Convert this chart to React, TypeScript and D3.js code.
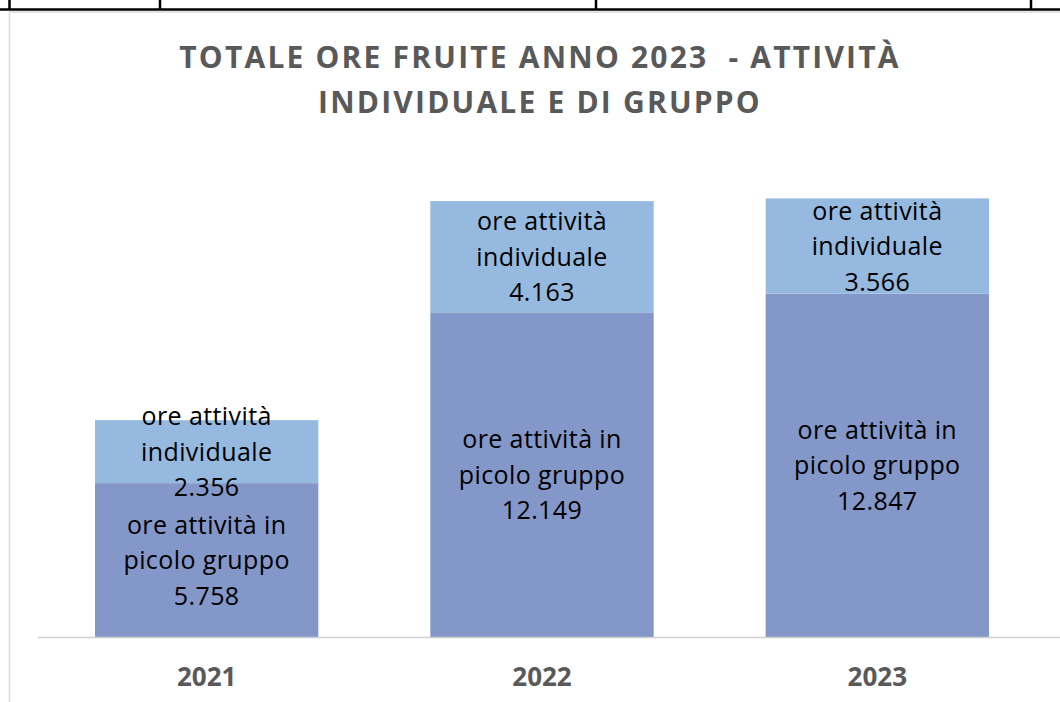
import React, { useRef, useEffect } from "react";
import * as d3 from "d3";

const years = ["2021", "2022", "2023"];
const gruppo = [5758, 12149, 12847];
const individuale = [2356, 4163, 3566];
const titleLines = ["TOTALE ORE FRUITE ANNO 2023  - ATTIVITÀ", "INDIVIDUALE E DI GRUPPO"];
const labelGruppo = ["ore attività in", "picolo gruppo"];
const labelIndividuale = ["ore attività", "individuale"];

const W = 1060;
const H = 702;

export default function App() {
  const ref = useRef<SVGSVGElement>(null);

  useEffect(() => {
    const svg = d3.select(ref.current);
    svg.selectAll("*").remove();

    const it = d3.formatLocale({ decimal: ",", thousands: ".", grouping: [3], currency: ["€", ""] });
    const fmt = it.format(",d");

    // table frame above the chart
    svg.append("rect").attr("x", 0).attr("y", 0).attr("width", W).attr("height", H).attr("fill", "#fff");
    svg.append("line").attr("x1", 0).attr("x2", W).attr("y1", 9.5).attr("y2", 9.5)
      .attr("stroke", "#000").attr("stroke-width", 2.5);
    [9.5, 160, 596, 1031].forEach((x) => {
      svg.append("line").attr("x1", x).attr("x2", x).attr("y1", 0).attr("y2", 10)
        .attr("stroke", "#000").attr("stroke-width", 2.5);
    });
    // chart frame
    svg.append("path").attr("d", `M9.5,${H}V12H${W}`).attr("fill", "none")
      .attr("stroke", "#d9d9d9").attr("stroke-width", 1.5);

    const x = d3.scaleBand().domain(years).range([39, 1045]).paddingInner(0.334).paddingOuter(0.167);
    const y = d3.scaleLinear().domain([0, 18000]).range([637, 156]);

    const stack = d3.stack<any>().keys(["gruppo", "individuale"]);
    const rows = years.map((yr, i) => ({ year: yr, gruppo: gruppo[i], individuale: individuale[i] }));
    const series = stack(rows);
    const colors = ["#8397C8", "#95B9DF"];
    const labels = [labelGruppo, labelIndividuale];

    series.forEach((s, si) => {
      const g = svg.append("g");
      g.selectAll("rect").data(s).enter().append("rect")
        .attr("x", (d) => x(d.data.year)!)
        .attr("width", x.bandwidth())
        .attr("y", (d) => y(d[1]))
        .attr("height", (d) => y(d[0]) - y(d[1]))
        .attr("fill", colors[si]);
    });

    series.forEach((s, si) => {
      s.forEach((d) => {
        const cx = x(d.data.year)! + x.bandwidth() / 2;
        const cy = (y(d[0]) + y(d[1])) / 2;
        const lines = [...labels[si], fmt(d[1] - d[0])];
        const t = svg.append("text")
          .attr("text-anchor", "middle")
          .attr("font-family", "'Open Sans', sans-serif")
          .attr("font-size", 25)
          .attr("letter-spacing", 0.4)
          .attr("fill", "#000");
        lines.forEach((ln, li) => {
          t.append("tspan").attr("x", cx).attr("y", cy + (li - 1) * 35.5 + 9).text(ln);
        });
      });
    });

    // axis
    svg.append("line").attr("x1", 38).attr("x2", W).attr("y1", 637.5).attr("y2", 637.5)
      .attr("stroke", "#d0d0d0").attr("stroke-width", 1.5);
    svg.append("g").selectAll("text").data(years).enter().append("text")
      .attr("x", (d) => x(d)! + x.bandwidth() / 2)
      .attr("y", 686)
      .attr("text-anchor", "middle")
      .attr("font-family", "'Open Sans', sans-serif")
      .attr("font-weight", "bold")
      .attr("font-size", 26)
      .attr("fill", "#595959")
      .text((d) => d);

    // title
    titleLines.forEach((ln, i) => {
      svg.append("text")
        .attr("x", 540)
        .attr("y", 68 + i * 45)
        .attr("text-anchor", "middle")
        .attr("font-family", "'Open Sans', sans-serif")
        .attr("font-weight", "bold")
        .attr("font-size", 30)
        .attr("letter-spacing", 2.2)
        .attr("fill", "#595959")
        .style("white-space", "pre")
        .text(ln);
    });
  }, []);

  return (
    <svg
      ref={ref}
      width={W}
      height={H}
      style={{ position: "absolute", left: 0, top: 0, display: "block" }}
    ></svg>
  );
}
